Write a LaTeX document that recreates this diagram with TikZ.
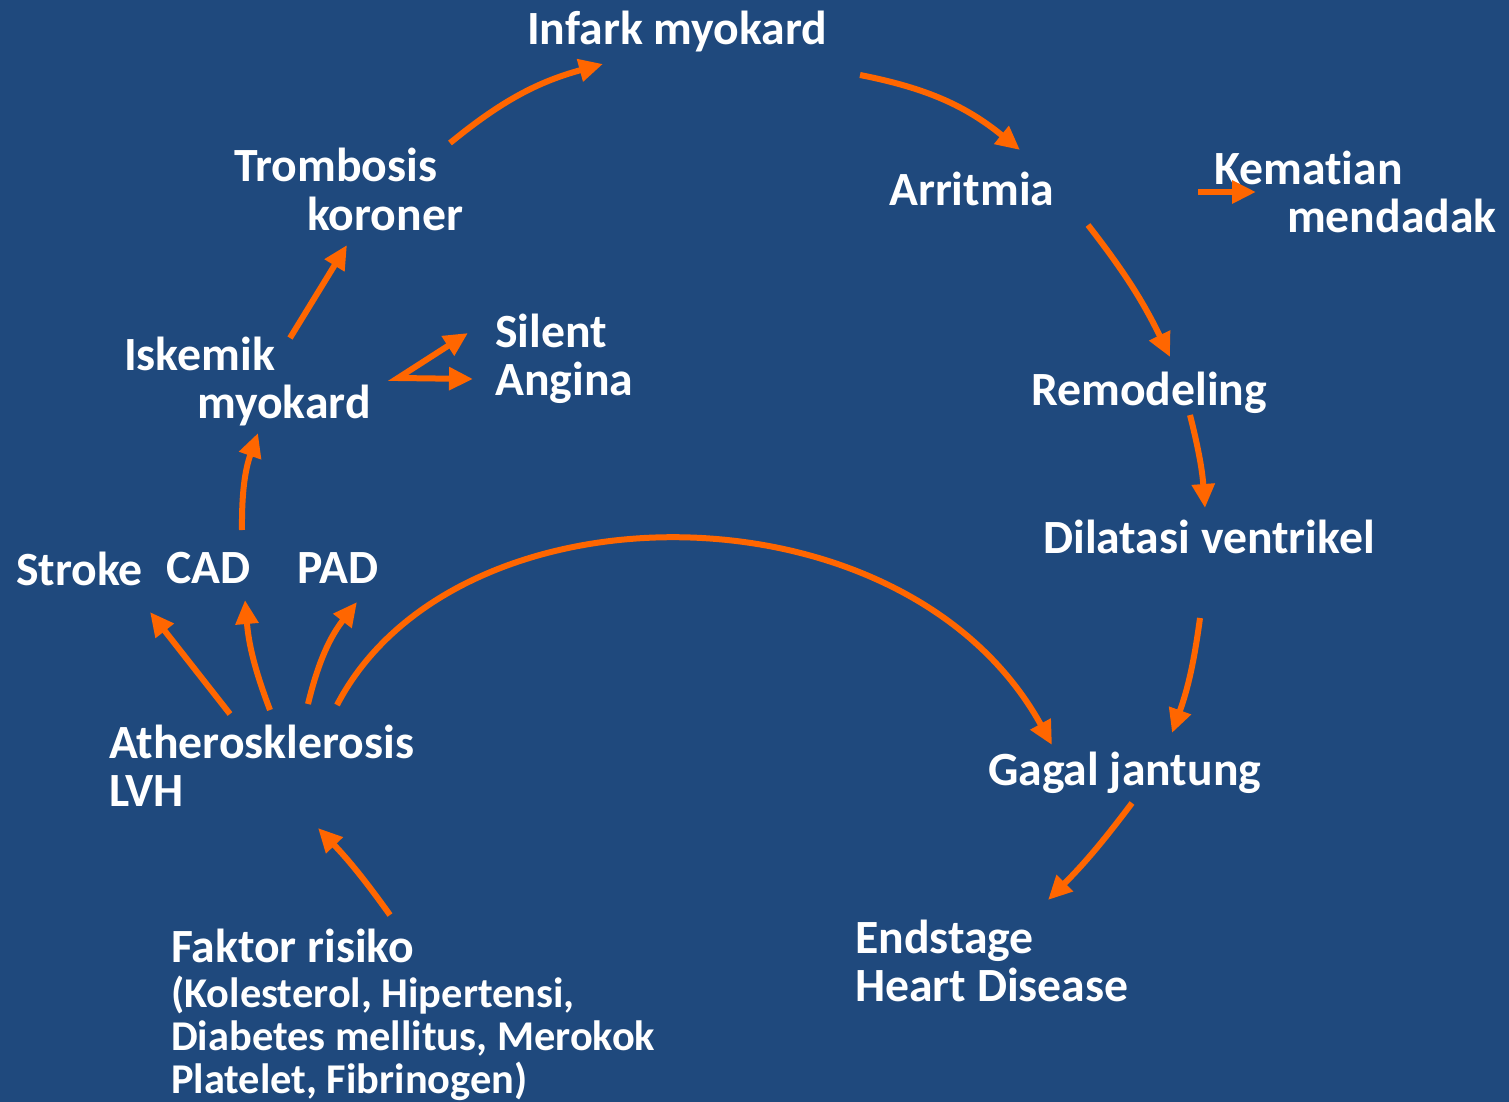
\documentclass[tikz,border=0pt]{standalone}
\usepackage{fontspec}
\setmainfont{Carlito}[Ligatures=NoCommon]
\usetikzlibrary{arrows.meta}
\definecolor{bgblue}{HTML}{1F497D}
\definecolor{arrorange}{HTML}{FF6600}
\begin{document}
\begin{tikzpicture}[x=1pt,y=-1pt,
  lbl/.style={anchor=base west,inner sep=0pt,text=white,font=\fontsize{47.7}{58}\selectfont\bfseries},
  sml/.style={anchor=base west,inner sep=0pt,text=white,font=\fontsize{42.4}{50}\selectfont\bfseries},
  arr/.style={draw=arrorange,line width=6pt,-{Triangle[length=24pt,width=22pt]}}]
\fill[bgblue] (0,0) rectangle (1509,1102);
\useasboundingbox (0,0) rectangle (1509,1102);
% texts
\node[lbl] (infark) at (527,45) {Infark myokard};
\node[lbl] (trombosis) at (234,182) {Trombosis};
\node[lbl] (koroner) at (307,230) {koroner};
\node[lbl] (arritmia) at (889,205) {Arritmia};
\node[lbl] (kematian) at (1214,185) {Kematian};
\node[lbl] (mendadak) at (1287,233) {mendadak};
\node[lbl] (silent) at (495,347) {Silent};
\node[lbl] (angina) at (495,395) {Angina};
\node[lbl] (iskemik) at (124,370) {Iskemik};
\node[lbl] (myokard) at (197,418) {myokard};
\node[lbl] (remodeling) at (1031,405) {Remodeling};
\node[lbl] (dilatasi) at (1043,553) {Dilatasi ventrikel};
\node[lbl] (stroke) at (16,585) {Stroke};
\node[lbl] (cad) at (166,583) {CAD};
\node[lbl] (pad) at (297,583) {PAD};
\node[lbl] (athero) at (109,758) {Atherosklerosis};
\node[lbl] (lvh) at (109,806) {LVH};
\node[lbl] (gagal) at (988,785) {Gagal jantung};
\node[lbl] (endstage) at (855,953) {Endstage};
\node[lbl] (heart) at (855,1001) {Heart Disease};
\node[lbl] (faktor) at (171,962) {Faktor risiko};
\node[sml] (fk1) at (171,1007) {(Kolesterol, Hipertensi,};
\node[sml] (fk2) at (171,1050) {Diabetes mellitus, Merokok};
\node[sml] (fk3) at (171,1093) {Platelet, Fibrinogen)};
% arrow end points
\coordinate (a1s) at (450,143); \coordinate (a1e) at (603,64);
\coordinate (a2s) at (860,75); \coordinate (a2e) at (1020,150);
\coordinate (a3s) at (1088,225); \coordinate (a3e) at (1170,357);
\coordinate (a4s) at (1190,415); \coordinate (a4e) at (1205,508);
\coordinate (a5s) at (1200,618); \coordinate (a5e) at (1172,733);
\coordinate (a6s) at (1132,803); \coordinate (a6e) at (1048,900);
\coordinate (a7s) at (390,915); \coordinate (a7e) at (318,828);
\coordinate (a8s) at (230,714); \coordinate (a8e) at (150,612);
\coordinate (a9s) at (270,710); \coordinate (a9e) at (245,600);
\coordinate (a10s) at (308,704); \coordinate (a10e) at (357,602);
\coordinate (a11s) at (337,705); \coordinate (a11e) at (1052,745);
\coordinate (a12s) at (242,530); \coordinate (a12e) at (258,433);
\coordinate (a13s) at (290,338); \coordinate (a13e) at (347,245);
\coordinate (vtip) at (398,378); \coordinate (vsil) at (468,333); \coordinate (vang) at (473,379);
\coordinate (kms) at (1198,192); \coordinate (kme) at (1256,192);
% arrows
\draw[arr] (a1s) to[bend left=12] (a1e);
\draw[arr] (a2s) to[bend left=14] (a2e);
\draw[arr] (a3s) to[bend left=6] (a3e);
\draw[arr] (a4s) to[bend left=5] (a4e);
\draw[arr] (a5s) to[bend left=6] (a5e);
\draw[arr] (a6s) to[bend left=4] (a6e);
\draw[arr] (a7s) to[bend right=4] (a7e);
\draw[arr] (a8s) -- (a8e);
\draw[arr] (a9s) to[bend left=8] (a9e);
\draw[arr] (a10s) to[bend left=12] (a10e);
\draw[arr] (a11s) .. controls (455,478) and (905,478) .. (a11e);
\draw[arr] (a12s) to[bend left=10] (a12e);
\draw[arr] (a13s) -- (a13e);
\draw[arr,{Triangle[length=24pt,width=22pt]}-{Triangle[length=24pt,width=22pt]},line join=miter] (vsil) -- (vtip) -- (vang);
\draw[arr] (kms) -- (kme);
\end{tikzpicture}
\end{document}
